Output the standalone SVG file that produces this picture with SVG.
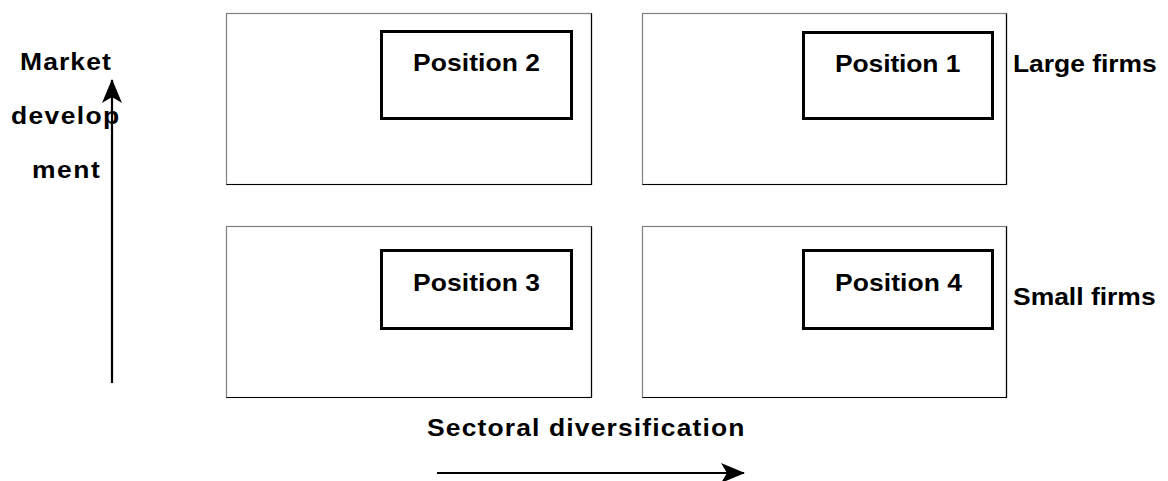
<svg xmlns="http://www.w3.org/2000/svg" width="1168" height="481" viewBox="0 0 1168 481">
<style>
.outer{fill:#fff;stroke:#808080;stroke-width:1.2}
.shade{fill:none;stroke:#000;stroke-width:1.2}
.inner{fill:#fff;stroke:#000;stroke-width:3}
.t{font-family:"Liberation Sans",Arial,sans-serif;font-weight:bold;font-size:23px;fill:#000}
.ax{stroke:#000;stroke-width:2.2;fill:none}
</style>
<defs>
<marker id="ahv" markerWidth="24" markerHeight="20" refX="23" refY="10" orient="auto" markerUnits="userSpaceOnUse" viewBox="0 0 24 20">
<path d="M0,0 L24,10 L0,20 L6,10 Z" fill="#000"/>
</marker>
</defs>
<g id="quad-top-left">
<rect class="outer" x="226.5" y="13.5" width="365" height="171"/>
<path class="shade" d="M226.5,184.5 H591.5 V13.5"/>
</g>
<g id="quad-top-right">
<rect class="outer" x="642.5" y="13.5" width="364" height="171"/>
<path class="shade" d="M642.5,184.5 H1006.5 V13.5"/>
</g>
<g id="quad-bottom-left">
<rect class="outer" x="226.5" y="226.5" width="365" height="171"/>
<path class="shade" d="M226.5,397.5 H591.5 V226.5"/>
</g>
<g id="quad-bottom-right">
<rect class="outer" x="642.5" y="226.5" width="364" height="171"/>
<path class="shade" d="M642.5,397.5 H1006.5 V226.5"/>
</g>
<g id="position-2">
<rect class="inner" x="381.5" y="31.5" width="190" height="87"/>
<text class="t" transform="translate(413,71) scale(1.15,1)" textLength="110.5" lengthAdjust="spacing">Position 2</text>
</g>
<g id="position-1">
<rect class="inner" x="803.5" y="32.5" width="189" height="86"/>
<text class="t" transform="translate(835,72) scale(1.15,1)" textLength="109" lengthAdjust="spacing">Position 1</text>
</g>
<g id="position-3">
<rect class="inner" x="381.5" y="250.5" width="190" height="78"/>
<text class="t" transform="translate(413,291) scale(1.15,1)" textLength="110.5" lengthAdjust="spacing">Position 3</text>
</g>
<g id="position-4">
<rect class="inner" x="803.5" y="250.5" width="189" height="78"/>
<text class="t" transform="translate(835,291) scale(1.15,1)" textLength="110.5" lengthAdjust="spacing">Position 4</text>
</g>
<g id="label-large-firms">
<text class="t" transform="translate(1013,72) scale(1.15,1)" textLength="125" lengthAdjust="spacing">Large firms</text>
</g>
<g id="label-small-firms">
<text class="t" transform="translate(1013,305) scale(1.15,1)" textLength="124" lengthAdjust="spacing">Small firms</text>
</g>
<g id="label-market-development">
<text class="t" transform="translate(20,70) scale(1.15,1)" textLength="79" lengthAdjust="spacing">Market</text>
<text class="t" transform="translate(11,124) scale(1.15,1)" textLength="94" lengthAdjust="spacing">develop</text>
<text class="t" transform="translate(32,178) scale(1.15,1)" textLength="59" lengthAdjust="spacing">ment</text>
</g>
<g id="label-sectoral-diversification">
<text class="t" transform="translate(427,436) scale(1.15,1)" textLength="276" lengthAdjust="spacing">Sectoral diversification</text>
</g>
<g id="connectors">
<line class="ax" x1="112" y1="383" x2="112" y2="80" marker-end="url(#ahv)"/>
<line class="ax" x1="437" y1="473" x2="744" y2="473" marker-end="url(#ahv)"/>
</g>
</svg>
